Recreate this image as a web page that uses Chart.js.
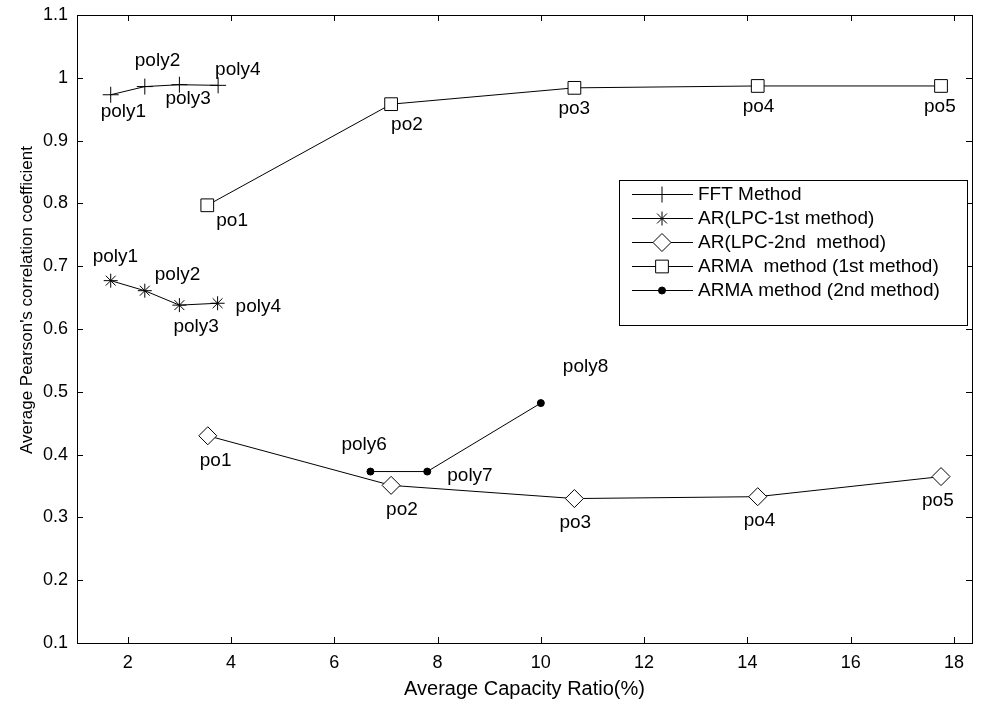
<!DOCTYPE html>
<html lang="en">
<head>
<meta charset="UTF-8" />
<title>Pearson correlation vs capacity ratio</title>
<script src="https://cdn.jsdelivr.net/npm/chart.js@4.4.0/dist/chart.umd.min.js"></script>
<style>
  html, body { margin: 0; padding: 0; background: #fff; }
  #wrap { width: 982px; height: 702px; }
</style>
</head>
<body>
<div id="wrap"><canvas id="chart" width="982" height="702"></canvas></div>
<script>
const FONT = "'Liberation Sans', Arial, sans-serif";

// FFT method
const fftX = [1.67, 2.33, 3.0, 3.75];
const fftY = [0.973, 0.986, 0.989, 0.988];
// AR (LPC-1st method)
const ar1X = [1.67, 2.33, 3.0, 3.74];
const ar1Y = [0.677, 0.661, 0.638, 0.641];
// AR (LPC-2nd method)
const ar2X = [3.55, 7.1, 10.65, 14.2, 17.75];
const ar2Y = [0.43, 0.351, 0.33, 0.333, 0.365];
// ARMA method (1st method)
const arma1X = [3.54, 7.1, 10.65, 14.2, 17.75];
const arma1Y = [0.797, 0.958, 0.984, 0.987, 0.987];
// ARMA method (2nd method)
const arma2X = [6.7, 7.8, 10.0];
const arma2Y = [0.373, 0.373, 0.482];

const polyNames = ["poly1", "poly2", "poly3", "poly4"];
const poNames = ["po1", "po2", "po3", "po4", "po5"];
const arma2Names = ["poly6", "poly7", "poly8"];

const seriesNames = ["FFT Method", "AR(LPC-1st method)", "AR(LPC-2nd  method)",
                     "ARMA  method (1st method)", "ARMA method (2nd method)"];

const xTicks = { min: 1.017, max: 18.35, step: 2 };
const yTicks = { min: 0.1, max: 1.1, step: 0.1 };
const xTitle = "Average Capacity Ratio(%)";
const yTitle = "Average Pearson's correlation coefficient";

const pts = (xs, ys) => xs.map((x, i) => ({ x: x, y: ys[i] }));

// label placement around each point: [dx, dy] from the marker centre
const fftNoteOff = [[-10, 17], [-10, -26], [-14, 14], [-3, -16]];
const ar1NoteOff = [[-18, -24], [10, -16], [-6, 22], [18, 4]];
const ar2NoteOff = [[-8, 25], [-5, 24], [-15, 24], [-14, 24], [-19, 24]];
const arma1NoteOff = [[9, 15], [0, 21], [-16, 21], [-15, 21], [-17, 21]];
const arma2NoteOff = [[-29, -27], [20, 4], [22, -36]];

function series(label, xs, ys, style, radius, notes, offs) {
  return {
    label: label,
    data: pts(xs, ys),
    borderColor: "#000",
    borderWidth: 1,
    pointStyle: style,
    pointRadius: radius,
    pointHoverRadius: radius,
    pointBorderColor: "#000",
    pointBorderWidth: 1,
    pointBackgroundColor: style === "circle" ? "#000" : "#fff",
    tension: 0,
    notes: notes,
    noteOffsets: offs
  };
}

const datasets = [
  series(seriesNames[0], fftX, fftY, "cross", 8, polyNames, fftNoteOff),
  series(seriesNames[1], ar1X, ar1Y, "star", 7, polyNames, ar1NoteOff),
  series(seriesNames[2], ar2X, ar2Y, "rectRot", 9, poNames, ar2NoteOff),
  series(seriesNames[3], arma1X, arma1Y, "rect", 9, poNames, arma1NoteOff),
  series(seriesNames[4], arma2X, arma2Y, "circle", 3.5, arma2Names, arma2NoteOff)
];

// text next to each marker
const pointNotes = {
  id: "pointNotes",
  afterDatasetsDraw(chart) {
    const ctx = chart.ctx;
    ctx.save();
    ctx.font = "19px " + FONT;
    ctx.fillStyle = "#000";
    ctx.textAlign = "left";
    ctx.textBaseline = "middle";
    chart.data.datasets.forEach((ds, di) => {
      const meta = chart.getDatasetMeta(di);
      meta.data.forEach((el, i) => {
        const o = ds.noteOffsets[i];
        ctx.fillText(ds.notes[i], el.x + o[0], el.y + o[1]);
      });
    });
    ctx.restore();
  }
};

// matlab style box with inward ticks on all four sides, plus the y label
const boxFrame = {
  id: "boxFrame",
  afterDraw(chart) {
    const { ctx, chartArea: a, scales } = chart;
    const len = 6;
    ctx.save();
    ctx.strokeStyle = "#000";
    ctx.lineWidth = 1;
    ctx.beginPath();
    scales.x.ticks.forEach(t => {
      const px = Math.round(scales.x.getPixelForValue(t.value)) + 0.5;
      ctx.moveTo(px, a.bottom); ctx.lineTo(px, a.bottom - len);
      ctx.moveTo(px, a.top); ctx.lineTo(px, a.top + len);
    });
    scales.y.ticks.forEach(t => {
      const py = Math.round(scales.y.getPixelForValue(t.value)) + 0.5;
      ctx.moveTo(a.left, py); ctx.lineTo(a.left + len, py);
      ctx.moveTo(a.right, py); ctx.lineTo(a.right - len, py);
    });
    ctx.stroke();
    ctx.strokeRect(Math.round(a.left) + 0.5, Math.round(a.top) + 0.5,
                   Math.round(a.right - a.left), Math.round(a.bottom - a.top));

    // y axis title sits a bit above the axis centre in the original
    ctx.translate(27, 300);
    ctx.rotate(-Math.PI / 2);
    ctx.font = "17px " + FONT;
    ctx.fillStyle = "#000";
    ctx.textAlign = "center";
    ctx.textBaseline = "middle";
    ctx.fillText(yTitle, 0, 0);
    ctx.restore();
  }
};

// boxed legend with line + marker samples
const boxLegend = {
  id: "boxLegend",
  afterDraw(chart) {
    const ctx = chart.ctx;
    const bx = 619, by = 180, bw = 348, bh = 145;
    const rowY = 194, rowStep = 24;
    ctx.save();
    ctx.fillStyle = "#fff";
    ctx.fillRect(bx, by, bw, bh);
    ctx.strokeStyle = "#000";
    ctx.lineWidth = 1;
    ctx.strokeRect(bx + 0.5, by + 0.5, bw, bh);
    ctx.font = "19px " + FONT;
    ctx.textAlign = "left";
    ctx.textBaseline = "middle";
    chart.data.datasets.forEach((ds, i) => {
      const y = Math.round(rowY + i * rowStep) + 0.5;
      ctx.beginPath();
      ctx.moveTo(632, y); ctx.lineTo(693, y);
      ctx.strokeStyle = "#000";
      ctx.stroke();
      ctx.fillStyle = ds.pointBackgroundColor;
      ctx.strokeStyle = "#000";
      ctx.lineWidth = 1;
      Chart.helpers.drawPoint(ctx, {
        pointStyle: ds.pointStyle, radius: ds.pointRadius, rotation: 0, borderWidth: 1
      }, 662, y);
      ctx.fillStyle = "#000";
      ctx.fillText(ds.label, 698, y);
    });
    ctx.restore();
  }
};

function noEdgePadding(scale) {
  scale.paddingLeft = 0; scale.paddingRight = 0;
  scale.paddingTop = 0; scale.paddingBottom = 0;
}

new Chart(document.getElementById("chart"), {
  type: "line",
  data: { datasets: datasets },
  plugins: [pointNotes, boxFrame, boxLegend],
  options: {
    responsive: false,
    animation: false,
    devicePixelRatio: 1,
    layout: { padding: { left: 0, right: 2, top: 15, bottom: 0 } },
    plugins: { legend: { display: false }, tooltip: { enabled: false } },
    scales: {
      x: {
        type: "linear",
        min: xTicks.min,
        max: xTicks.max,
        grid: { display: false, drawTicks: false },
        border: { display: false },
        ticks: {
          stepSize: xTicks.step, includeBounds: false, color: "#000",
          font: { family: FONT, size: 18 }, padding: 9, maxRotation: 0
        },
        title: {
          display: true, text: xTitle, color: "#000",
          font: { family: FONT, size: 20 }, padding: { top: 0, bottom: 1 }
        },
        afterFit(scale) { scale.height = 59; noEdgePadding(scale); }
      },
      y: {
        type: "linear",
        min: yTicks.min,
        max: yTicks.max,
        grid: { display: false, drawTicks: false },
        border: { display: false },
        ticks: {
          stepSize: yTicks.step, color: "#000",
          font: { family: FONT, size: 18 }, padding: 9,
          callback: v => String(Number(v.toFixed(2)))
        },
        afterFit(scale) { scale.width = 77; noEdgePadding(scale); }
      }
    }
  }
});
</script>
</body>
</html>
